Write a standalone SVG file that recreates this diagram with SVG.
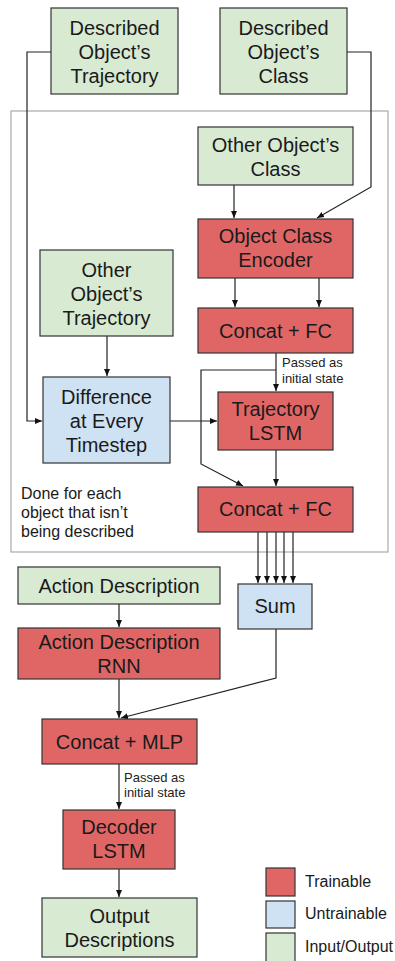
<svg xmlns="http://www.w3.org/2000/svg" width="395" height="961" viewBox="0 0 395 961">
<defs>
<marker id="ah" markerUnits="userSpaceOnUse" markerWidth="8" markerHeight="8" viewBox="0 0 8 8" refX="7" refY="4" orient="auto">
<path d="M0,1 L7,4 L0,7 Z" fill="#111"/>
</marker>
<style>
.io{fill:#d9ead3;stroke:#333;stroke-width:1.2}
.tr{fill:#e06666;stroke:#333;stroke-width:1.2}
.un{fill:#cfe2f3;stroke:#333;stroke-width:1.2}
.t{font-family:"Liberation Sans",Arial,sans-serif;font-size:20px;fill:#1a1a1a;text-anchor:middle}
.s{font-family:"Liberation Sans",Arial,sans-serif;font-size:13px;fill:#222}
.m{font-family:"Liberation Sans",Arial,sans-serif;font-size:16px;fill:#1a1a1a}
.c{fill:none;stroke:#222;stroke-width:1.2}
.a{marker-end:url(#ah)}
</style>
</defs>
<rect x="11" y="111" width="377" height="441" fill="none" stroke="#aaa" stroke-width="1.2"/>
<g id="connectors">
<path class="c a" d="M51,52 H27 V421 H42"/>
<path class="c a" d="M347,52 H371 V187 L317,218"/>
<path class="c a" d="M234,185 V218"/>
<path class="c a" d="M235,278 V307"/>
<path class="c a" d="M319,278 V307"/>
<path class="c a" d="M276,353 V391"/>
<path class="c a" d="M276,370 H201 V464 L243,486"/>
<path class="c a" d="M107,336 V376"/>
<path class="c a" d="M170,421 H217"/>
<path class="c a" d="M276,450 V486"/>
<path class="c a" d="M258,532 V583"/>
<path class="c a" d="M267,532 V583"/>
<path class="c a" d="M276,532 V583"/>
<path class="c a" d="M284,532 V583"/>
<path class="c a" d="M293,532 V583"/>
<path class="c a" d="M119,604 V627"/>
<path class="c a" d="M119,679 V718"/>
<path class="c a" d="M276,629 V678 L121,718"/>
<path class="c a" d="M119,764 V809"/>
<path class="c a" d="M119,869 V897"/>
<text class="s" x="282" y="367">Passed as</text>
<text class="s" x="282" y="383">initial state</text>
<text class="s" x="124" y="782">Passed as</text>
<text class="s" x="124" y="797">initial state</text>
</g>
<g id="described-trajectory">
<rect class="io" x="51" y="8" width="127" height="86"/>
<text class="t" x="114.5" y="35">Described</text>
<text class="t" x="114.5" y="59">Object’s</text>
<text class="t" x="114.5" y="83">Trajectory</text>
</g>
<g id="described-class">
<rect class="io" x="220" y="8" width="127" height="86"/>
<text class="t" x="283.5" y="35">Described</text>
<text class="t" x="283.5" y="59">Object’s</text>
<text class="t" x="283.5" y="83">Class</text>
</g>
<g id="other-class">
<rect class="io" x="198" y="127" width="155" height="58"/>
<text class="t" x="275.5" y="152">Other Object’s</text>
<text class="t" x="275.5" y="176">Class</text>
</g>
<g id="class-encoder">
<rect class="tr" x="198" y="219" width="155" height="59"/>
<text class="t" x="275.5" y="243">Object Class</text>
<text class="t" x="275.5" y="267">Encoder</text>
</g>
<g id="other-trajectory">
<rect class="io" x="40" y="250" width="133" height="86"/>
<text class="t" x="106.5" y="277">Other</text>
<text class="t" x="106.5" y="301">Object’s</text>
<text class="t" x="106.5" y="325">Trajectory</text>
</g>
<g id="concat-fc-1">
<rect class="tr" x="198" y="308" width="155" height="45"/>
<text class="t" x="275.5" y="338">Concat + FC</text>
</g>
<g id="difference">
<rect class="un" x="43" y="377" width="127" height="86"/>
<text class="t" x="106.5" y="404">Difference</text>
<text class="t" x="106.5" y="428">at Every</text>
<text class="t" x="106.5" y="452">Timestep</text>
</g>
<g id="trajectory-lstm">
<rect class="tr" x="218" y="392" width="115" height="58"/>
<text class="t" x="275.5" y="416">Trajectory</text>
<text class="t" x="275.5" y="440">LSTM</text>
</g>
<g id="concat-fc-2">
<rect class="tr" x="198" y="487" width="155" height="45"/>
<text class="t" x="275.5" y="516">Concat + FC</text>
</g>
<g id="note">
<text class="m" x="21" y="499">Done for each</text>
<text class="m" x="21" y="518">object that isn’t</text>
<text class="m" x="21" y="537">being described</text>
</g>
<g id="action-description">
<rect class="io" x="18" y="567" width="202" height="37"/>
<text class="t" x="119" y="593">Action Description</text>
</g>
<g id="sum">
<rect class="un" x="238" y="584" width="74" height="45"/>
<text class="t" x="275" y="613">Sum</text>
</g>
<g id="action-rnn">
<rect class="tr" x="18" y="628" width="202" height="51"/>
<text class="t" x="119" y="649">Action Description</text>
<text class="t" x="119" y="673">RNN</text>
</g>
<g id="concat-mlp">
<rect class="tr" x="42" y="719" width="155" height="45"/>
<text class="t" x="119.5" y="749">Concat + MLP</text>
</g>
<g id="decoder-lstm">
<rect class="tr" x="63" y="810" width="112" height="59"/>
<text class="t" x="119" y="834">Decoder</text>
<text class="t" x="119" y="858">LSTM</text>
</g>
<g id="output-descriptions">
<rect class="io" x="42" y="898" width="155" height="59"/>
<text class="t" x="119.5" y="923">Output</text>
<text class="t" x="119.5" y="947">Descriptions</text>
</g>
<g id="legend">
<rect class="tr" x="266" y="868" width="29" height="28" stroke="#000"/>
<rect class="un" x="266" y="901" width="29" height="27" stroke="#000"/>
<rect class="io" x="266" y="933" width="29" height="29" stroke="#000"/>
<text class="m" x="305" y="887">Trainable</text>
<text class="m" x="305" y="919">Untrainable</text>
<text class="m" x="305" y="952">Input/Output</text>
</g>
</svg>
